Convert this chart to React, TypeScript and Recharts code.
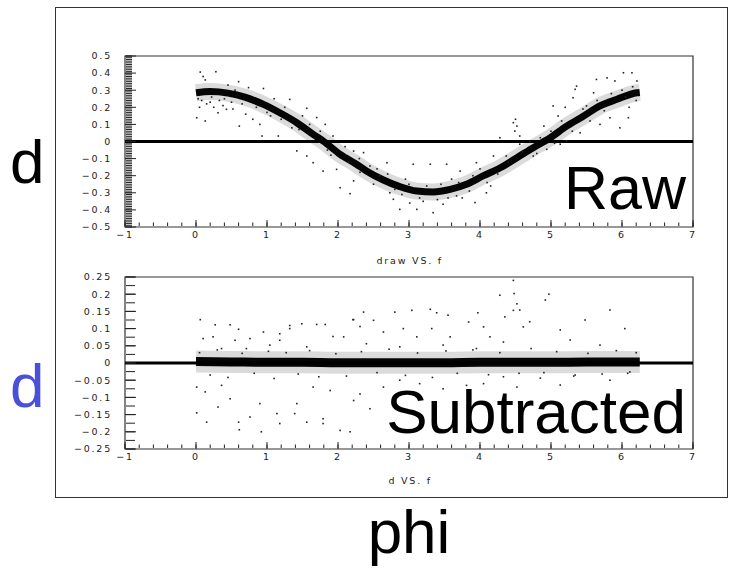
import React from "react";
import {
  ComposedChart,
  Line,
  Scatter,
  XAxis,
  YAxis,
  ReferenceLine,
  ReferenceArea,
} from "recharts";

// phi axis
const phiTicks = [-1, 0, 1, 2, 3, 4, 5, 6, 7];
const phiMinor = Array.from({ length: 41 }, (_, i) => -1 + i * 0.2);

// raw panel
const rawTicks = [-0.5, -0.4, -0.3, -0.2, -0.1, 0, 0.1, 0.2, 0.3, 0.4, 0.5];
const rawMinor = Array.from({ length: 101 }, (_, i) => -0.5 + i * 0.01);

// subtracted panel
const subTicks = [-0.25, -0.2, -0.15, -0.1, -0.05, 0, 0.05, 0.1, 0.15, 0.2, 0.25];
const subMinor = Array.from({ length: 21 }, (_, i) => -0.25 + i * 0.025);

// centre of the dense band
const rawBand = [
  [0, 0.285], [0.2, 0.292], [0.45, 0.283], [0.7, 0.258], [0.95, 0.217],
  [1.18, 0.168], [1.42, 0.11], [1.65, 0.042], [1.8, 0.0], [2.03, -0.075],
  [2.26, -0.133], [2.4, -0.172], [2.64, -0.225], [2.87, -0.264], [3.11, -0.29],
  [3.34, -0.295], [3.58, -0.28], [3.81, -0.25], [4.05, -0.2], [4.28, -0.155],
  [4.52, -0.095], [4.75, -0.036], [4.99, 0.022], [5.22, 0.09], [5.46, 0.149],
  [5.69, 0.208], [5.93, 0.247], [6.21, 0.285], [6.25, 0.287],
];

const rawOutliers = [
  [0.06, 0.406], [0.28, 0.408], [0.13, 0.36], [0.1, 0.38], [0.01, 0.139], [0.13, 0.12],
  [0.31, 0.168], [0.43, 0.188], [0.61, 0.09], [0.9, 0.1], [0.93, 0.032], [0.74, 0.315],
  [0.95, 0.31], [1.32, 0.246], [1.56, 0.194], [1.7, 0.14], [1.82, 0.1], [1.93, 0.032],
  [1.16, 0.032], [1.42, -0.055], [1.56, -0.085], [1.65, -0.124], [1.79, -0.173],
  [1.98, -0.163], [2.03, -0.27], [2.17, -0.305], [2.22, -0.23], [0.25, 0.2], [0.2, 0.23],
  [0.38, 0.21], [0.52, 0.19], [0.7, 0.16], [0.05, 0.2], [0.03, 0.25], [0.8, 0.13],
  [0.6, 0.35], [0.45, 0.33], [1.1, 0.25], [1.25, 0.2], [1.5, 0.15], [1.05, 0.15],
  [2.22, -0.056], [2.36, -0.065], [2.45, -0.143], [2.59, -0.2], [2.73, -0.3],
  [2.87, -0.397], [3.01, -0.36], [3.11, -0.397], [3.34, -0.416], [3.48, -0.367],
  [3.67, -0.318], [3.93, -0.357], [4.09, -0.3], [3.06, -0.133], [3.3, -0.133],
  [3.53, -0.133], [3.72, -0.173], [3.95, -0.124], [4.19, -0.085], [4.28, 0.022],
  [4.47, 0.11], [4.49, 0.061], [4.56, 0.032], [2.69, -0.124], [2.31, -0.18], [2.5, -0.25],
  [2.78, -0.338], [3.2, -0.35], [3.4, -0.34], [3.75, -0.33], [2.95, -0.22], [3.6, -0.22],
  [4.15, -0.26], [4.37, -0.085], [4.56, -0.016], [4.75, -0.085], [4.85, 0.022],
  [5.03, 0.208], [5.1, 0.149], [5.34, 0.305], [5.31, 0.256], [5.5, 0.208], [5.64, 0.363],
  [5.79, 0.372], [5.9, 0.354], [6.02, 0.402], [6.14, 0.402], [6.21, 0.354], [6.09, 0.139],
  [5.97, 0.08], [5.83, 0.139], [5.69, 0.1], [5.41, 0.051], [5.22, 0.003], [5.13, -0.016],
  [4.94, -0.046], [5.6, 0.285], [5.36, 0.324], [4.5, 0.13], [4.52, 0.09], [6.0, 0.3],
  [6.1, 0.2], [5.2, 0.2], [4.9, 0.09],
  [0.08, 0.24], [0.15, 0.22], [0.22, 0.26], [0.33, 0.24], [0.4, 0.25], [0.5, 0.23],
  [0.55, 0.3], [0.65, 0.22], [0.85, 0.2], [1.0, 0.17], [1.2, 0.13], [1.35, 0.08],
  [1.45, 0.07], [1.6, 0.1], [1.75, 0.06], [1.85, -0.05], [1.9, -0.08], [2.1, -0.03],
  [2.15, -0.12], [2.3, -0.1], [2.55, -0.16], [2.7, -0.19], [2.8, -0.28], [2.9, -0.31],
  [3.0, -0.25], [3.15, -0.33], [3.25, -0.26], [3.45, -0.25], [3.55, -0.33], [3.7, -0.24],
  [3.85, -0.29], [3.9, -0.2], [4.0, -0.16], [4.1, -0.24], [4.25, -0.19], [4.4, -0.12],
  [4.6, -0.06], [4.7, 0.0], [4.8, -0.07], [5.0, 0.06], [5.05, -0.01], [5.15, 0.12],
  [5.3, 0.06], [5.45, 0.19], [5.55, 0.12], [5.65, 0.24], [5.75, 0.18], [5.85, 0.28],
  [6.05, 0.26], [6.15, 0.32], [6.2, 0.24],
];

const subBand = [
  [0, 0.004], [0.5, 0.003], [1, 0.002], [1.5, 0.002], [2, 0.001], [2.5, 0.001],
  [3, 0.001], [3.5, 0.001], [4, 0.002], [4.5, 0.002], [5, 0.002], [5.5, 0.003],
  [6, 0.003], [6.25, 0.003],
];

const subOutliers = [
  [0.06, 0.126], [0.27, 0.111], [0.48, 0.111], [0.6, 0.098], [0.1, 0.071], [0.24, 0.076],
  [0.36, 0.042], [0.55, 0.066], [0.76, 0.071], [0.95, 0.09], [1.18, 0.085], [1.32, 0.109],
  [1.49, 0.114], [1.7, 0.112], [1.82, 0.112], [1.93, 0.077], [2.08, 0.076], [2.22, 0.126],
  [0.01, -0.07], [0.13, -0.084], [0.01, -0.145], [0.15, -0.172], [0.31, -0.128],
  [0.36, -0.065], [0.48, -0.104], [0.61, -0.194], [0.6, -0.172], [0.76, -0.157],
  [0.9, -0.118], [0.92, -0.2], [1.14, -0.147], [1.18, -0.176], [1.39, -0.147],
  [1.42, -0.118], [1.56, -0.172], [1.79, -0.162], [1.79, -0.176], [2.03, -0.196],
  [2.17, -0.2], [2.22, -0.109], [1.65, -0.07], [1.89, -0.08], [1.32, 0.1], [1.18, 0.066],
  [0.71, 0.042], [1.04, 0.052], [1.56, 0.047],
  [4.47, 0.24], [4.48, 0.202], [4.47, 0.153], [4.28, 0.197], [4.52, 0.172], [2.36, 0.148],
  [2.8, 0.148], [3.04, 0.153], [3.3, 0.156], [3.39, 0.146], [3.55, 0.139], [3.97, 0.146],
  [4.35, 0.134], [2.21, 0.126], [2.5, 0.124], [2.31, 0.106], [2.92, 0.1], [3.32, 0.1],
  [3.84, 0.119], [4.05, 0.105], [4.61, 0.105], [2.64, 0.09], [3.11, 0.076], [3.58, 0.076],
  [4.14, 0.076], [2.4, 0.056], [2.87, 0.047], [3.48, 0.052], [3.95, 0.042], [4.33, 0.061],
  [2.31, -0.09], [2.45, -0.133], [2.64, -0.07], [2.87, -0.05], [3.15, -0.06],
  [3.48, -0.075], [3.81, -0.065], [4.05, -0.06], [4.33, -0.04], [4.52, -0.07],
  [4.97, 0.2], [4.92, 0.183], [4.7, 0.12], [5.13, 0.096], [5.48, 0.125], [5.83, 0.154],
  [6.04, 0.1], [5.69, 0.052], [5.27, 0.067], [4.85, -0.044], [5.34, -0.035],
  [5.83, -0.05], [6.11, -0.026], [5.13, -0.064], [4.56, 0.154],
  [0.05, 0.03], [0.2, -0.035], [0.3, 0.038], [0.45, -0.042], [0.65, 0.028], [0.82, -0.03],
  [1.02, 0.034], [1.1, -0.045], [1.27, 0.03], [1.44, -0.032], [1.6, 0.036], [1.73, -0.04],
  [1.97, 0.027], [2.12, -0.038], [2.33, 0.033], [2.55, -0.028], [2.72, 0.04], [2.95, -0.036],
  [3.12, 0.029], [3.33, -0.042], [3.52, 0.035], [3.68, -0.03], [3.9, 0.038], [4.12, -0.034],
  [4.28, 0.03], [4.55, -0.03], [4.72, 0.042], [4.9, -0.028], [5.08, 0.033], [5.32, -0.038],
  [5.52, 0.028], [5.72, -0.032], [5.92, 0.036], [6.08, -0.03], [6.2, 0.03],
];

const toPts = (arr: number[][]) => arr.map(([x, y]) => ({ x, y }));

const fmt = (v: number) => {
  const s = String(Math.round(v * 1000) / 1000);
  return s.startsWith("-") ? "\u2212" + s.slice(1) : s;
};

const tickFont = {
  fontSize: 9.5,
  fill: "#222",
  fontFamily: '"DejaVu Sans", sans-serif',
  letterSpacing: 1.8,
};

const NoTick = () => <g />;

const Dot = (p: any) => (
  <rect x={p.cx - 0.8} y={p.cy - 0.8} width={1.6} height={1.6} fill="#222" />
);

type PanelProps = {
  top: number;
  bottom: number;
  yMajor: number[];
  yMinor: number[];
  yMinorSize: number;
  band: number[][];
  outliers: number[][];
  bandWidth: number;
  haloWidth: number;
};

function Panel({ top, bottom, yMajor, yMinor, yMinorSize, band, outliers, bandWidth, haloWidth }: PanelProps) {
  const yDom: [number, number] = [yMajor[0], yMajor[yMajor.length - 1]];
  const H = bottom + 40;
  const tl = { stroke: "#222" };
  return (
    <div style={{ position: "absolute", left: 0, top: 0 }}>
      <ComposedChart
        width={755}
        height={H}
        margin={{ top, left: 65, right: 62, bottom: H - bottom - 30 }}
      >
        {/* labels only, outside the frame */}
        <XAxis
          dataKey="x"
          type="number"
          domain={[-1, 7]}
          ticks={phiTicks}
          height={30}
          tickLine={false}
          axisLine={false}
          tickSize={0}
          tickMargin={4}
          tick={tickFont}
          tickFormatter={fmt}
          interval={0}
          allowDataOverflow
        />
        {/* tick marks pointing into the frame */}
        <XAxis
          xAxisId="maj"
          dataKey="x"
          type="number"
          domain={[-1, 7]}
          ticks={phiTicks}
          mirror
          height={1}
          tick={NoTick}
          tickSize={7}
          axisLine={false}
          tickLine={tl}
          interval={0}
          allowDataOverflow
        />
        <XAxis
          xAxisId="min"
          dataKey="x"
          type="number"
          domain={[-1, 7]}
          ticks={phiMinor}
          mirror
          height={1}
          tick={NoTick}
          tickSize={3.5}
          axisLine={false}
          tickLine={tl}
          interval={0}
          allowDataOverflow
        />
        <YAxis
          dataKey="y"
          type="number"
          domain={yDom}
          ticks={yMajor}
          width={60}
          tickLine={false}
          axisLine={false}
          tickSize={0}
          tickMargin={13}
          tick={tickFont}
          tickFormatter={fmt}
          interval={0}
          allowDataOverflow
        />
        <YAxis
          yAxisId="maj"
          dataKey="y"
          type="number"
          domain={yDom}
          ticks={yMajor}
          mirror
          width={1}
          tick={NoTick}
          tickSize={11}
          axisLine={false}
          tickLine={tl}
          interval={0}
          allowDataOverflow
        />
        <YAxis
          yAxisId="min"
          dataKey="y"
          type="number"
          domain={yDom}
          ticks={yMinor}
          mirror
          width={1}
          tick={NoTick}
          tickSize={yMinorSize}
          axisLine={false}
          tickLine={tl}
          interval={0}
          allowDataOverflow
        />
        <Scatter data={[]} dataKey="y" xAxisId="maj" yAxisId="maj" isAnimationActive={false} />
        <Scatter data={[]} dataKey="y" xAxisId="min" yAxisId="min" isAnimationActive={false} />
        <ReferenceArea
          x1={-1}
          x2={7}
          y1={yDom[0]}
          y2={yDom[1]}
          fill="none"
          stroke="#333"
          strokeWidth={1.2}
        />
        <Line
          data={toPts(band)}
          dataKey="y"
          type="monotone"
          stroke="#000"
          strokeOpacity={0.14}
          strokeWidth={haloWidth}
          dot={false}
          isAnimationActive={false}
        />
        <Scatter data={toPts(outliers)} dataKey="y" shape={Dot} isAnimationActive={false} />
        <Line
          data={toPts(band)}
          dataKey="y"
          type="monotone"
          stroke="#050505"
          strokeWidth={bandWidth}
          dot={false}
          isAnimationActive={false}
        />
        <ReferenceLine y={0} stroke="#000" strokeWidth={3} />
      </ComposedChart>
    </div>
  );
}

export default function App() {
  const big = { fontFamily: '"Liberation Sans", Arial, sans-serif', fontSize: 62 };
  return (
    <div style={{ position: "absolute", left: 0, top: 0, width: 755, height: 571, background: "#fff" }}>
      <div
        style={{
          position: "absolute",
          left: 55,
          top: 7,
          width: 671,
          height: 489,
          border: "1px solid #333",
        }}
      />
      <Panel
        top={56}
        bottom={227}
        yMajor={rawTicks}
        yMinor={rawMinor}
        yMinorSize={6}
        band={rawBand}
        outliers={rawOutliers}
        bandWidth={7}
        haloWidth={17}
      />
      <Panel
        top={277}
        bottom={449}
        yMajor={subTicks}
        yMinor={subMinor}
        yMinorSize={9}
        band={subBand}
        outliers={subOutliers}
        bandWidth={9}
        haloWidth={22}
      />
      <svg width={755} height={571} style={{ position: "absolute", left: 0, top: 0, pointerEvents: "none" }}>
        <text x={10} y={183} style={big} fill="#000">d</text>
        <text x={10} y={407} style={big} fill="#4a50d8">d</text>
        <text x={409} y={553} style={big} fill="#000" textAnchor="middle">phi</text>
        <text x={686} y={209} style={{ ...big, fontSize: 61 }} fill="#000" textAnchor="end">Raw</text>
        <text x={686} y={433} style={{ ...big, fontSize: 62 }} fill="#000" textAnchor="end">Subtracted</text>
        <text x={443} y={264} style={tickFont} textAnchor="end">draw VS. f</text>
        <text x={432} y={484} style={tickFont} textAnchor="end">d VS. f</text>
      </svg>
    </div>
  );
}
